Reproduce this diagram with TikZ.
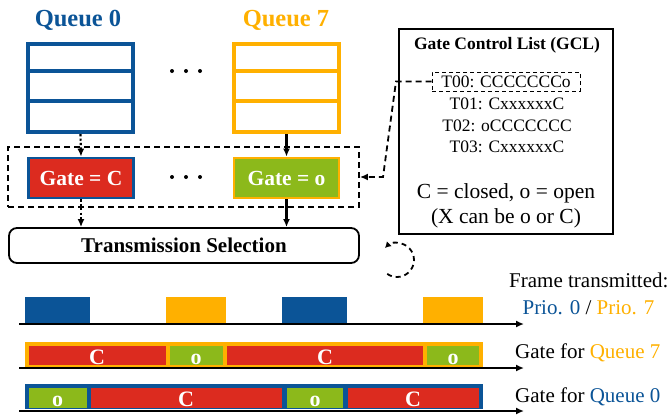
\documentclass[tikz,border=0pt]{standalone}
\usepackage{fontspec}
\setmainfont{Liberation Serif}
\usetikzlibrary{arrows.meta}
\definecolor{qblue}{HTML}{0B5497}
\definecolor{qorange}{HTML}{FFB000}
\definecolor{gred}{HTML}{DC2B1F}
\definecolor{ggreen}{HTML}{8CB91B}
\tikzset{
  queuebox/.style={draw, line width=3.8pt, minimum width=105.5pt, minimum height=88.5pt, inner sep=0pt},
  gatebox/.style={draw, line width=2.8pt, minimum width=105pt, minimum height=40pt, inner sep=0pt,
     text=white, font=\fontsize{21.5}{24}\selectfont\bfseries},
  tip/.style={-{Latex[length=8pt,width=7pt]}},
  flow/.style={tip, line width=2.2pt},
  dotflow/.style={flow, dash pattern=on 2.2pt off 2.2pt},
  dashbox/.style={draw, line width=1.8pt, dash pattern=on 6pt off 4pt},
  gcltext/.style={font=\fontsize{17.5}{20}\selectfont, inner sep=0pt},
  seglabel/.style={text=white, font=\fontsize{22}{24}\selectfont\bfseries, inner sep=0pt, anchor=base},
  rlabel/.style={font=\fontsize{21}{24}\selectfont, inner sep=0pt, anchor=base west},
  axis/.style={tip, line width=2.2pt},
}
\begin{document}
\begin{tikzpicture}[x=1pt,y=1pt]
\useasboundingbox (0,0) rectangle (670,-418);

% Queue titles
\node[anchor=base, text=qblue, font=\fontsize{24.5}{28}\selectfont\bfseries] (t0) at (78,-26) {Queue 0};
\node[anchor=base, text=qorange, font=\fontsize{24.5}{28}\selectfont\bfseries] (t7) at (286,-26) {Queue 7};

% Queues
\node[queuebox, draw=qblue] (q0) at (80.5,-88) {};
\node[queuebox, draw=qorange] (q7) at (286.5,-88) {};
\foreach \yy in {-71,-101}{
  \draw[qblue, line width=3.8pt] (q0.west |- 0,\yy) -- (q0.east |- 0,\yy);
  \draw[qorange, line width=3.8pt] (q7.west |- 0,\yy) -- (q7.east |- 0,\yy);
}
\foreach \xx in {172,186,200}{
  \fill (\xx,-71) circle (2pt);
  \fill (\xx,-177) circle (2pt);
}

% Gates
\node[dashbox, minimum width=351pt, minimum height=60pt, inner sep=0pt] (gates) at (183.5,-177) {};
\node[gatebox, draw=qblue, fill=gred] (g0) at (81,-178) {Gate = C};
\node[gatebox, draw=qorange, fill=ggreen] (g7) at (286.5,-178) {Gate = o};

% Transmission selection
\node[draw, line width=1.8pt, rounded corners=8pt, minimum width=350pt, minimum height=35pt,
      font=\fontsize{21}{24}\selectfont\bfseries] (ts) at (184,-245.5) {Transmission Selection};

\draw[dotflow] (q0.south) -- (g0.north);
\draw[dotflow] (g0.south) -- (ts.north -| g0.south);
\draw[flow] (q7.south) -- (g7.north);
\draw[flow] (g7.south) -- (ts.north -| g7.south);

% GCL
\node[draw, line width=2pt, minimum width=214pt, minimum height=205pt, inner sep=0pt] (gcl) at (506,-131.5) {};
\node[font=\fontsize{17.5}{20}\selectfont\bfseries, inner sep=0pt] (gcltitle) at (507,-45) {Gate Control List (GCL)};
\node[gcltext, draw, line width=1pt, dash pattern=on 4pt off 3pt, minimum width=148pt, minimum height=19pt] (t00) at (506,-81.5) {T00: CCCCCCCo};
\node[gcltext] (t01) at (507,-104) {T01: CxxxxxxC};
\node[gcltext] (t02) at (507,-126) {T02: oCCCCCCC};
\node[gcltext] (t03) at (507,-147) {T03: CxxxxxxC};
\node[font=\fontsize{21.5}{24}\selectfont, inner sep=0pt] (leg1) at (506,-193) {C = closed, o = open};
\node[font=\fontsize{21.5}{24}\selectfont, inner sep=0pt] (leg2) at (506,-218) {(X can be o or C)};

\coordinate (c1) at (396,-81.5);
\coordinate (c2) at (383,-177);
\draw[tip, line width=1.8pt, dash pattern=on 6pt off 4pt] (t00.west) -- (c1) -- (c2) -- (gates.east);

% cycle symbol
\draw[line width=1.8pt, dash pattern=on 5pt off 4pt, -{Latex[length=6pt,width=7pt]}] (397,-260) ++(235:17) arc[start angle=235, end angle=495, radius=17];

% Frame row
\coordinate (a1s) at (19,-324);
\coordinate (a1e) at (524,-324);
\fill[qblue] (25,-297) rectangle (90,-324);
\fill[qorange] (166,-297) rectangle (226,-324);
\fill[qblue] (282,-297) rectangle (347,-324);
\fill[qorange] (423,-297) rectangle (483,-324);
\draw[axis] (a1s) -- (a1e);
\node[rlabel] (ft) at (509,-287) {Frame transmitted:};
\node[font=\fontsize{21}{24}\selectfont, inner sep=0pt, anchor=base] (prio) at (588.5,-314) {\textcolor{qblue}{Prio. 0} / \textcolor{qorange}{Prio. 7}};

% Gate for Queue 7
\fill[qorange] (25,-342) rectangle (483,-368);
\fill[gred] (29,-345.7) rectangle (166,-365);
\fill[ggreen] (170,-345.7) rectangle (222.7,-365);
\fill[gred] (227,-345.7) rectangle (423,-365);
\fill[ggreen] (427,-345.7) rectangle (479,-365);
\node[seglabel] at (97,-364) {C};
\node[seglabel] at (196,-364) {o};
\node[seglabel] at (325,-364) {C};
\node[seglabel] at (453,-364) {o};
\coordinate (a2s) at (19,-368);
\coordinate (a2e) at (524,-368);
\draw[axis] (a2s) -- (a2e);
\node[rlabel] (g7l) at (515,-358) {Gate for \textcolor{qorange}{Queue 7}};

% Gate for Queue 0
\fill[qblue] (25,-384.3) rectangle (483,-409.3);
\fill[ggreen] (29,-388.3) rectangle (86.7,-408.3);
\fill[gred] (90.7,-388.3) rectangle (282,-408.3);
\fill[ggreen] (287,-388.3) rectangle (343,-408.3);
\fill[gred] (348,-388.3) rectangle (479,-408.3);
\node[seglabel] at (57.5,-406.5) {o};
\node[seglabel] at (186,-406.5) {C};
\node[seglabel] at (315,-406.5) {o};
\node[seglabel] at (413,-406.5) {C};
\coordinate (a3s) at (19,-411);
\coordinate (a3e) at (524,-411);
\draw[axis] (a3s) -- (a3e);
\node[rlabel] (g0l) at (515,-402) {Gate for \textcolor{qblue}{Queue 0}};
\end{tikzpicture}
\end{document}
